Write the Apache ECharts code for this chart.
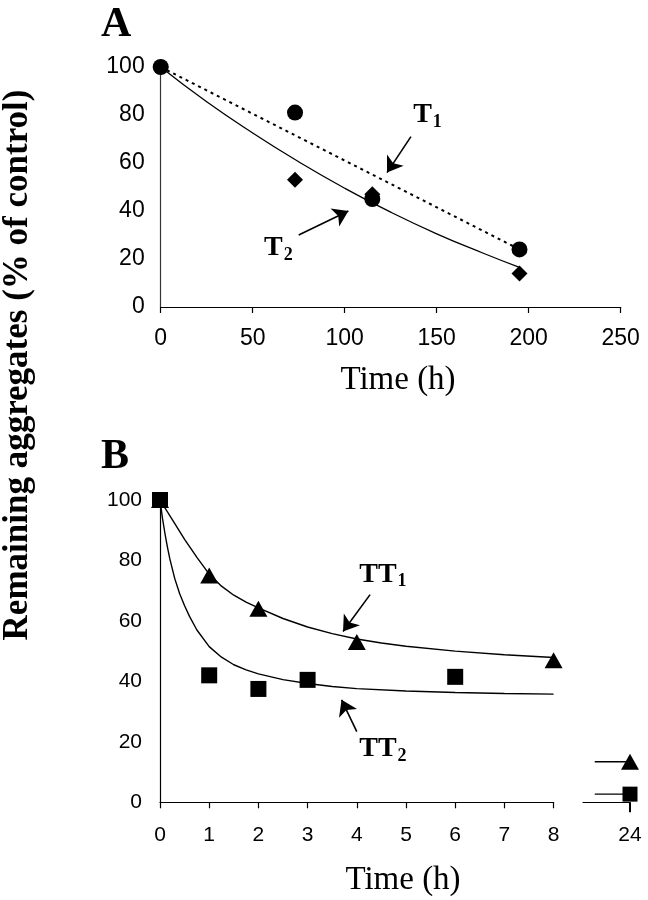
<!DOCTYPE html>
<html><head><meta charset="utf-8">
<script src="https://cdn.jsdelivr.net/npm/echarts@6/dist/echarts.min.js"></script>
<style>html,body{margin:0;padding:0;background:#fff}#c{width:648px;height:900px}</style>
</head><body><div id="c"></div>
<script>
// ---------- Panel A data ----------
const timeA = [0, 73, 115, 195];
const circleValues = [100, 81, 45, 24];      // T1 (circles)
const diamondValues = [100, 53, 47, 14];     // T2 (diamonds)
const t1FitTime = [0, 195];
const t1FitValues = [100, 24];
const t2FitTime = [0, 25, 50, 75, 100, 125, 150, 175, 195];
const t2FitValues = [100, 85.5, 72.5, 60.5, 49.5, 39.5, 30.5, 22.5, 16.5];
const xTicksA = [0, 50, 100, 150, 200, 250];
const yTicks = [0, 20, 40, 60, 80, 100];

// ---------- Panel B data ----------
const tt1Time = [0, 1, 2, 4, 8];
const tt1Values = [100, 75, 64, 53, 47];       // triangles
const tt2Time = [0, 1, 2, 3, 6];
const tt2Values = [100, 42, 37.5, 40.5, 41.5]; // squares
const tt1CurveTime = [0, 0.25, 0.5, 0.75, 1, 1.25, 1.5, 1.75, 2, 2.5, 3, 3.5, 4, 4.5, 5, 6, 7, 8];
const tt1CurveValues = [100, 93.5, 87, 81, 75.5, 71.5, 68.5, 66.2, 64.3, 60.8, 58, 55.8, 54, 52.7, 51.6, 50, 48.8, 47.9];
const tt2CurveTime = [0, 0.05, 0.1, 0.15, 0.2, 0.3, 0.4, 0.5, 0.6, 0.75, 1, 1.25, 1.5, 1.75, 2, 2.5, 3, 3.5, 4, 5, 6, 7, 8];
const tt2CurveValues = [100, 94, 89, 84.5, 80.5, 74, 69, 65, 61.5, 57, 51.5, 48, 45.5, 43.8, 42.5, 40.6, 39.3, 38.3, 37.6, 36.8, 36.3, 36, 35.8];
const xTicksB = [0, 1, 2, 3, 4, 5, 6, 7, 8];
const lateTime = [23.25, 24];
const tt1At24 = 13.4;
const tt2At24 = 2.7;

// ---------- annotations (data coordinates) ----------
const arrowT1 = [[136, 71], [123, 56]];
const arrowT2 = [[75, 30], [102, 40]];
const labelT1 = [145, 80];
const labelT2 = [64, 24.5];
const arrowTT1 = [[4.27, 68.7], [3.72, 56.5]];
const arrowTT2 = [[4.0, 23.4], [3.69, 33.9]];
const labelTT1 = [4.53, 75.3];
const labelTT2 = [4.53, 17.6];

const zip = (xs, ys) => xs.map((x, i) => [x, ys[i]]);
const SANS = 'Liberation Sans';
const SERIF = 'Liberation Serif';
const BLACK = { color: '#000', opacity: 1 };

function arrowSeries(xi, yi, segs) {
  return {
    type: 'line', xAxisIndex: xi, yAxisIndex: yi, data: [], silent: true,
    itemStyle: BLACK,
    markLine: {
      silent: true, symbol: ['none', 'arrow'], symbolSize: 15,
      label: { show: false },
      itemStyle: BLACK,
      lineStyle: { color: '#000', width: 1.6, type: 'solid', opacity: 1 },
      emphasis: { disabled: true },
      data: segs.map(s => [{ coord: s[0] }, { coord: s[1] }])
    }
  };
}
function labelSeries(xi, yi, pos, main, sub) {
  return {
    type: 'scatter', xAxisIndex: xi, yAxisIndex: yi, symbolSize: 0, silent: true,
    data: [pos], itemStyle: BLACK,
    label: {
      show: true, position: 'inside', formatter: '{m|' + main + '}{s|' + sub + '}', opacity: 1,
      rich: {
        m: { fontFamily: SERIF, fontWeight: 'bold', fontSize: 28, color: '#000' },
        s: { fontFamily: SERIF, fontWeight: 'bold', fontSize: 18, color: '#000', verticalAlign: 'bottom', padding: [14, 0, 0, 1] }
      }
    }
  };
}

const axisLineStyle = { color: '#000', width: 1.2 };

const chart = echarts.init(document.getElementById('c'), null, { renderer: 'canvas' });
chart.setOption({
  animation: false,
  backgroundColor: '#fff',
  grid: [
    { left: 160.7, top: 67, width: 460, height: 240 },
    { left: 160, top: 500, width: 393.6, height: 302.3 },
    { left: 583, top: 500, width: 47, height: 302.3 }
  ],
  xAxis: [
    {
      gridIndex: 0, type: 'value', min: xTicksA[0], max: xTicksA[xTicksA.length - 1], interval: 50,
      splitLine: { show: false },
      axisLine: { lineStyle: axisLineStyle },
      axisTick: { show: true, inside: false, length: 6, lineStyle: axisLineStyle },
      axisLabel: { fontFamily: SANS, fontSize: 23, color: '#000', margin: 20 }
    },
    {
      gridIndex: 1, type: 'value', min: xTicksB[0], max: xTicksB[xTicksB.length - 1], interval: 1,
      splitLine: { show: false },
      axisLine: { lineStyle: axisLineStyle },
      axisTick: { show: true, length: 6, lineStyle: axisLineStyle },
      axisLabel: { fontFamily: SANS, fontSize: 21, color: '#000', margin: 22 }
    },
    {
      gridIndex: 2, type: 'value', min: 23, max: 24, interval: 1,
      splitLine: { show: false },
      axisLine: { lineStyle: axisLineStyle },
      axisTick: { show: true, length: 10, lineStyle: { color: '#000', width: 2 }, customValues: [24] },
      axisLabel: { fontFamily: SANS, fontSize: 21, color: '#000', margin: 22, customValues: [24] }
    }
  ],
  yAxis: [
    {
      gridIndex: 0, type: 'value', min: yTicks[0], max: yTicks[yTicks.length - 1], interval: 20,
      splitLine: { show: false },
      axisLine: { show: true, lineStyle: { color: '#333', width: 1.2 } },
      axisTick: { show: false },
      axisLabel: { fontFamily: SANS, fontSize: 23, color: '#000', margin: 16 }
    },
    {
      gridIndex: 1, type: 'value', min: yTicks[0], max: yTicks[yTicks.length - 1], interval: 20,
      splitLine: { show: false },
      axisLine: { show: true, lineStyle: { color: '#000', width: 1.2 } },
      axisTick: { show: false },
      axisLabel: { fontFamily: SANS, fontSize: 21, color: '#000', margin: 18 }
    },
    {
      gridIndex: 2, type: 'value', min: yTicks[0], max: yTicks[yTicks.length - 1], show: false,
      splitLine: { show: false }
    }
  ],
  graphic: [
    { type: 'text', left: 101, top: 4, style: { text: 'A', font: 'bold 42px "Liberation Serif"', fill: '#000' } },
    { type: 'text', left: 101, top: 436, style: { text: 'B', font: 'bold 42px "Liberation Serif"', fill: '#000' } },
    { type: 'text', x: 18, y: 365, rotation: Math.PI / 2,
      style: { text: 'Remaining aggregates (% of control)', font: 'bold 35px "Liberation Serif"', fill: '#000', align: 'center', verticalAlign: 'middle' } },
    { type: 'text', x: 398, y: 380,
      style: { text: 'Time (h)', font: '33px "Liberation Serif"', fill: '#000', align: 'center', verticalAlign: 'middle' } },
    { type: 'text', x: 403, y: 880,
      style: { text: 'Time (h)', font: '33px "Liberation Serif"', fill: '#000', align: 'center', verticalAlign: 'middle' } }
  ],
  series: [
    // ----- Panel A -----
    { type: 'line', xAxisIndex: 0, yAxisIndex: 0, data: zip(t1FitTime, t1FitValues), showSymbol: false,
      lineStyle: { color: '#000', width: 2, type: [3, 4] }, z: 2 },
    { type: 'line', xAxisIndex: 0, yAxisIndex: 0, data: zip(t2FitTime, t2FitValues), showSymbol: false, smooth: true,
      lineStyle: { color: '#000', width: 1.3 }, z: 2 },
    { type: 'scatter', xAxisIndex: 0, yAxisIndex: 0, data: zip(timeA, diamondValues), symbol: 'diamond', symbolSize: 16,
      itemStyle: BLACK, z: 3 },
    { type: 'scatter', xAxisIndex: 0, yAxisIndex: 0, data: zip(timeA, circleValues), symbol: 'circle', symbolSize: 16,
      itemStyle: BLACK, z: 4 },
    arrowSeries(0, 0, [arrowT1, arrowT2]),
    labelSeries(0, 0, labelT1, 'T', '1'),
    labelSeries(0, 0, labelT2, 'T', '2'),
    // ----- Panel B -----
    { type: 'line', xAxisIndex: 1, yAxisIndex: 1, data: zip(tt1CurveTime, tt1CurveValues), showSymbol: false,
      smooth: false, lineStyle: { color: '#000', width: 1.4 }, z: 2 },
    { type: 'line', xAxisIndex: 1, yAxisIndex: 1, data: zip(tt2CurveTime, tt2CurveValues), showSymbol: false,
      smooth: false, lineStyle: { color: '#000', width: 1.4 }, z: 2 },
    { type: 'scatter', xAxisIndex: 1, yAxisIndex: 1, data: zip(tt1Time, tt1Values), symbol: 'triangle', symbolSize: [18, 16],
      itemStyle: BLACK, z: 3 },
    { type: 'scatter', xAxisIndex: 1, yAxisIndex: 1, data: zip(tt2Time, tt2Values), symbol: 'rect', symbolSize: 16,
      itemStyle: BLACK, z: 4 },
    arrowSeries(1, 1, [arrowTT1, arrowTT2]),
    labelSeries(1, 1, labelTT1, 'TT', '1'),
    labelSeries(1, 1, labelTT2, 'TT', '2'),
    // ----- 24 h -----
    { type: 'line', xAxisIndex: 2, yAxisIndex: 2, data: lateTime.map(t => [t, tt1At24]), showSymbol: false,
      lineStyle: { color: '#000', width: 1.4 }, z: 2 },
    { type: 'line', xAxisIndex: 2, yAxisIndex: 2, data: lateTime.map(t => [t, tt2At24]), showSymbol: false,
      lineStyle: { color: '#000', width: 1.4 }, z: 2 },
    { type: 'scatter', xAxisIndex: 2, yAxisIndex: 2, data: [[24, tt1At24]], symbol: 'triangle', symbolSize: [18, 16],
      itemStyle: BLACK, z: 3 },
    { type: 'scatter', xAxisIndex: 2, yAxisIndex: 2, data: [[24, tt2At24]], symbol: 'rect', symbolSize: 15,
      itemStyle: BLACK, z: 4 }
  ]
});
</script></body></html>
